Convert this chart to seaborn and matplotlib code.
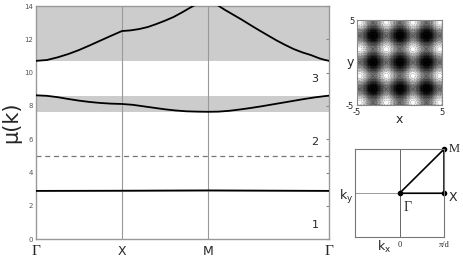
import numpy as np
import matplotlib.pyplot as plt
import seaborn as sns

sns.set_style("white")
plt.rcParams['font.family'] = ['DejaVu Sans']

# path lengths Gamma-X, X-M, M-Gamma
seg_len = [1.0, 1.0, np.sqrt(2)]
sym_labels = ["Γ", "X", "M", "Γ"]

# band 1 (very flat)
k1 = [0.0, 1.0, 2.0, 3.414]
band1 = [2.90, 2.91, 2.93, 2.90]
gap1 = (2.85, 2.97)

# band 2
k2 = [0, 0.125, 0.25, 0.375, 0.5, 0.625, 0.75, 0.875, 1.0, 1.125, 1.25, 1.375,
      1.5, 1.625, 1.75, 1.875, 2.0, 2.125, 2.25, 2.375, 2.5, 2.625, 2.75,
      2.875, 3.0, 3.125, 3.25, 3.375, 3.414]
band2 = [8.64, 8.61, 8.53, 8.42, 8.32, 8.24, 8.18, 8.14, 8.12, 8.07, 7.98, 7.89,
         7.80, 7.73, 7.68, 7.66, 7.65, 7.66, 7.71, 7.79, 7.88, 7.98, 8.09,
         8.20, 8.31, 8.42, 8.52, 8.60, 8.62]
gap2 = (7.62, 8.62)

# band 3
k3 = [0, 0.125, 0.25, 0.375, 0.5, 0.625, 0.75, 0.875, 1.0, 1.1, 1.2, 1.3, 1.4,
      1.5, 1.6, 1.7, 1.8, 1.9, 2.0, 2.1, 2.2, 2.3, 2.4, 2.5, 2.6, 2.7, 2.8,
      2.9, 3.0, 3.1, 3.2, 3.3, 3.36, 3.414]
band3 = [10.71, 10.76, 10.92, 11.12, 11.36, 11.64, 11.93, 12.22, 12.50, 12.54,
         12.62, 12.74, 12.92, 13.12, 13.34, 13.62, 13.92, 14.20, 14.45, 14.10,
         13.77, 13.47, 13.17, 12.85, 12.54, 12.24, 11.94, 11.67, 11.42, 11.22,
         11.06, 10.86, 10.77, 10.71]
gap3 = (10.7, 14.0)

band_names = ["1", "2", "3"]
band_label_y = [0.85, 5.85, 9.65]
dashed_level = 5.0

# lattice potential for the inset (period pi)
pot_period = np.pi
pot_range = 5

fig = plt.figure(figsize=(4.63, 2.64), dpi=100)
ax = fig.add_axes([0.078, 0.094, 0.633, 0.883])

kmax = sum(seg_len)
sym_pos = np.concatenate([[0], np.cumsum(seg_len)])

for lo, hi in [gap1, gap2, gap3]:
    ax.axhspan(lo, hi, color='#cccccc', lw=0, zorder=0)
for p in sym_pos[1:-1]:
    ax.axvline(p, color='#999999', lw=0.8, zorder=1)
ax.axhline(dashed_level, color='#777777', lw=0.9, ls=(0, (4, 3)), zorder=1)

for kk, bb in [(k1, band1), (k2, band2), (k3, band3)]:
    sns.lineplot(x=kk, y=bb, color='black', lw=1.3, ax=ax, sort=False,
                 estimator=None, zorder=3)

for name, yy in zip(band_names, band_label_y):
    ax.text(3.25, yy, name, fontsize=8, ha='center', va='center')

ax.set_xlim(0, kmax)
ax.set_ylim(0, 14)
ax.set_yticks(range(0, 15, 2))
ax.set_xticks(sym_pos)
ax.set_xticklabels(sym_labels)
for lab, fam, fs in zip(ax.get_xticklabels(),
                        ['Liberation Serif', 'DejaVu Sans', 'DejaVu Sans', 'Liberation Serif'],
                        [11, 9, 9, 11]):
    lab.set_family(fam)
    lab.set_fontsize(fs)
ax.tick_params(axis='y', direction='in', length=2.5, labelsize=5,
               labelcolor='#555555', color='#888888', right=True, pad=2)
ax.tick_params(axis='x', length=0, pad=4)
for s in ax.spines.values():
    s.set_color('#999999')
    s.set_linewidth(1.0)
ax.set_ylabel("μ(k)", fontsize=15, labelpad=2)

# inset: potential density
ax2 = fig.add_axes([0.771, 0.602, 0.184, 0.322])
g = np.linspace(-pot_range, pot_range, 60)
X, Y = np.meshgrid(g, g)
V = np.cos(2 * np.pi * X / pot_period) + np.cos(2 * np.pi * Y / pot_period)
ax2.imshow(V, cmap='gray_r', extent=[-5, 5, -5, 5], origin='lower',
           interpolation='nearest', vmin=-2.0, vmax=1.6)
ax2.contour(X, Y, V, levels=14, colors='#222222', linewidths=0.3, alpha=0.6)
ax2.set_xticks([-5, 5])
ax2.set_yticks([-5, 5])
ax2.set_xticklabels(["-5", "5"])
ax2.set_yticklabels(["-5", "5"])
ax2.tick_params(labelsize=6, length=0, pad=2)
ax2.set_xlabel("x", fontsize=9, labelpad=-3)
ax2.set_ylabel("y", fontsize=9, labelpad=-3, rotation=0, va='center')
for s in ax2.spines.values():
    s.set_color('#888888')
    s.set_linewidth(0.8)

# inset: Brillouin zone
ax3 = fig.add_axes([0.767, 0.101, 0.192, 0.334])
ax3.set_xlim(-1, 1)
ax3.set_ylim(-1, 1)
ax3.axvline(0, color='#666666', lw=0.7)
ax3.axhline(0, color='#999999', lw=0.7)
ax3.plot([0, 1, 1, 0], [0, 1, 0, 0], color='black', lw=1.2)
ax3.plot([0, 1, 1], [0, 1, 0], 'o', color='black', ms=3, clip_on=False)
ax3.text(1.1, 1.0, "M", fontsize=9, family='Liberation Serif', va='center')
ax3.text(1.1, -0.1, "X", fontsize=9, va='center')
ax3.text(0.1, -0.32, "Γ", fontsize=10, family='Liberation Serif', va='center')
ax3.text(-1.05, -0.08, r"$\mathregular{k_y}$", fontsize=9, ha='right', va='center')
ax3.text(-0.35, -1.22, r"$\mathregular{k_x}$", fontsize=9, ha='center', va='center')
ax3.text(0, -1.17, "0", fontsize=6, ha='center', va='center', family='Liberation Serif')
ax3.text(1.0, -1.17, "π/d", fontsize=6, ha='center', va='center', family='Liberation Serif')
ax3.set_xticks([])
ax3.set_yticks([])
for s in ax3.spines.values():
    s.set_color('#777777')
    s.set_linewidth(0.8)

fig.savefig("out.png", dpi=100)
